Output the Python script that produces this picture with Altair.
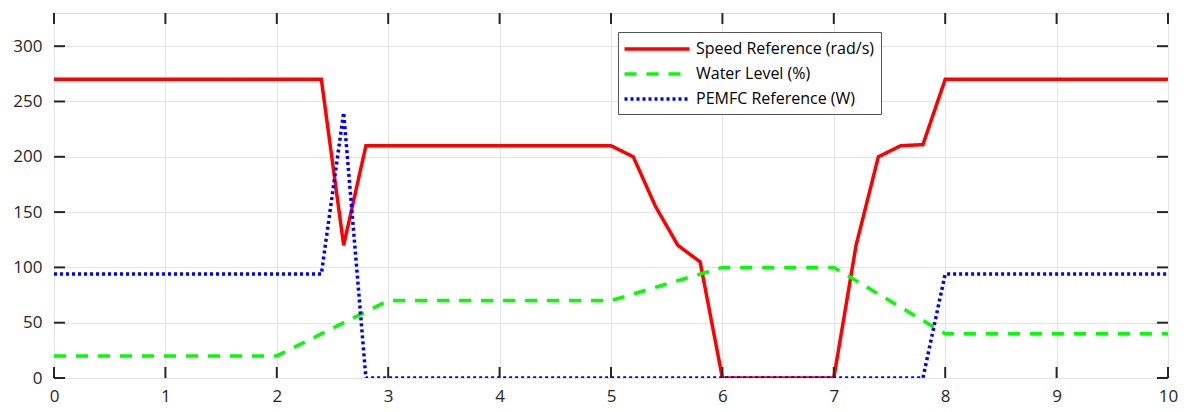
import altair as alt
import pandas as pd

# ---- data ----
speed_t = [0, 2.4, 2.6, 2.8, 5.0, 5.2, 5.4, 5.6, 5.8, 6.0, 7.0, 7.2, 7.4, 7.6, 7.8, 8.0, 10]
speed_v = [270, 270, 120, 210, 210, 200, 155, 120, 105, 0, 0, 120, 200, 210, 211, 270, 270]

water_t = [0, 2.0, 3.0, 5.0, 6.0, 7.0, 8.0, 10]
water_v = [20, 20, 70, 70, 100, 100, 40, 40]

pemfc_t = [0, 2.4, 2.6, 2.8, 7.8, 8.0, 10]
pemfc_v = [94, 94, 240, 0, 0, 94, 94]

series_names = ["Speed Reference (rad/s)", "Water Level (%)", "PEMFC Reference (W)"]
series_colors = ["#ff0000", "#00ff00", "#0000ff"]
series_dash = [[1, 0], [12, 10], [3, 3]]

x_ticks = [0, 1, 2, 3, 4, 5, 6, 7, 8, 9, 10]
y_ticks = [0, 50, 100, 150, 200, 250, 300]

rows = []
for name, ts, vs in zip(series_names, [speed_t, water_t, pemfc_t], [speed_v, water_v, pemfc_v]):
    for i, (t, v) in enumerate(zip(ts, vs)):
        rows.append({"series": name, "t": t, "v": v, "order": i})
df = pd.DataFrame(rows)

W, H = 1114, 365
FONT = "Open Sans"
TXT = "#262626"

xs = alt.Scale(domain=[0, 10], nice=False)
ys = alt.Scale(domain=[0, 330], nice=False)

pad_spaces = "\u2003"
color = alt.Color("series:N", scale=alt.Scale(domain=series_names, range=series_colors),
                  legend=alt.Legend(title=None, orient="none", legendX=564, legendY=19,
                                    symbolType="M-4,0H4", symbolSize=264, symbolStrokeWidth=3.5,
                                    symbolOffset=22,
                                    labelFont=FONT, labelFontSize=16, labelColor="#000000",
                                    labelExpr="datum.label + '" + pad_spaces + "'",
                                    fillColor="white", strokeColor="#555555", padding=7,
                                    rowPadding=7, labelOffset=29, labelLimit=400))
dash = alt.StrokeDash("series:N", scale=alt.Scale(domain=series_names, range=series_dash), legend=None)

base_axes = alt.Chart(df).mark_line(opacity=0).encode(
    x=alt.X("t:Q", scale=xs, title=None,
            axis=alt.Axis(values=x_ticks, format="d", grid=True, gridColor="#e3e3e3", ticks=False, domain=False,
                          labelFlush=False,
                          labelFont=FONT, labelFontSize=17, labelColor=TXT, labelPadding=10)),
    y=alt.Y("v:Q", scale=ys, title=None,
            axis=alt.Axis(values=y_ticks, format="d", grid=True, gridColor="#e3e3e3", ticks=False, domain=False,
                          labelFlush=False,
                          labelFont=FONT, labelFontSize=17, labelColor=TXT, labelPadding=12)),
)

layers = [base_axes]
widths = [3.5, 3.5, 3.5]
for name, w in zip(series_names, widths):
    layers.append(
        alt.Chart(df).transform_filter(alt.datum.series == name).mark_line(strokeWidth=w, strokeCap="butt", clip=True).encode(
            x=alt.X("t:Q", scale=xs),
            y=alt.Y("v:Q", scale=ys),
            color=color,
            strokeDash=dash,
            order="order:Q",
        )
    )

xt = pd.DataFrame({"t": x_ticks})
yt = pd.DataFrame({"v": y_ticks})
TL = 11
tick_style = dict(color=TXT, strokeWidth=2)
layers += [
    alt.Chart(xt).mark_rule(**tick_style).encode(x=alt.X("t:Q", scale=xs), y=alt.value(H), y2=alt.value(H - TL)),
    alt.Chart(xt).mark_rule(**tick_style).encode(x=alt.X("t:Q", scale=xs), y=alt.value(0), y2=alt.value(TL)),
    alt.Chart(yt).mark_rule(**tick_style).encode(y=alt.Y("v:Q", scale=ys), x=alt.value(0), x2=alt.value(TL)),
    alt.Chart(yt).mark_rule(**tick_style).encode(y=alt.Y("v:Q", scale=ys), x=alt.value(W), x2=alt.value(W - TL)),
]

chart = alt.layer(*layers).properties(
    width=W, height=H,
    autosize=alt.AutoSizeParams(type="none"),
    padding={"left": 46, "top": 5, "right": 10, "bottom": 30},
).configure_view(stroke=TXT, strokeWidth=2).configure(background="white")

chart.save("out.html", embed_options={"renderer": "svg", "actions": False})
